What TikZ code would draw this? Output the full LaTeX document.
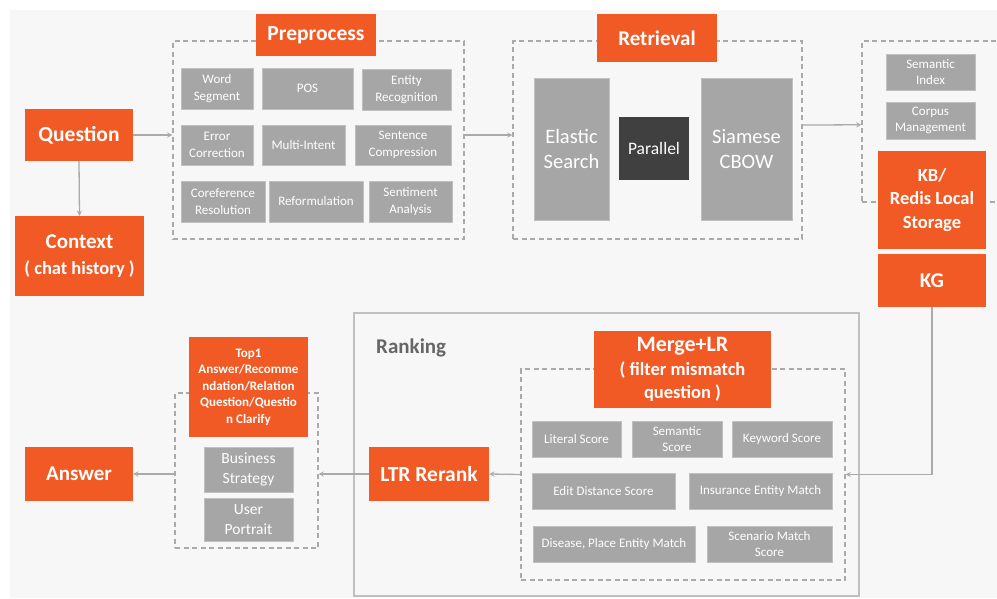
\documentclass[tikz,border=0pt]{standalone}
\usepackage{fontspec}
\setmainfont{Carlito}
\usepackage{tikz}
\usetikzlibrary{arrows,shapes,calc,positioning}
\definecolor{naranja}{RGB}{241,90,36}
\definecolor{grisCaja}{RGB}{166,166,166}
\definecolor{grisBorde}{RGB}{192,192,192}
\definecolor{grisOscuro}{RGB}{64,64,64}
\definecolor{grisLinea}{RGB}{170,170,170}
\definecolor{grisTexto}{RGB}{102,102,102}
\definecolor{fondo}{RGB}{247,247,247}
\newcommand{\fsz}[2]{\fontsize{#1}{#2}\selectfont}
\tikzstyle{edge}  =[->, >=stealth, line width=1.3pt, draw=grisLinea]
\tikzstyle{obox}  =[rectangle, fill=naranja, text=white, align=center,
                    inner sep=0pt, font=\bfseries]
\tikzstyle{gbox}  =[rectangle, fill=grisCaja, draw=grisBorde, line width=0.8pt,
                    text=white, align=center, inner sep=0pt,
                    font=\fsz{13}{16.5}]
\tikzstyle{dbox}  =[rectangle, draw=grisLinea, line width=1.1pt,
                    dash pattern=on 5pt off 3.5pt, inner sep=0pt]

\begin{document}
\begin{tikzpicture}[x=1pt,y=-1pt]
    \useasboundingbox (0,0) rectangle (997,598);
    \fill[fondo] (10,10) rectangle (997,598);

    % question and context
    \node[obox, minimum width=108, minimum height=52, font=\bfseries\fsz{21.5}{24}]
        (question) at (79,135) {Question};
    \node[obox, minimum width=129, minimum height=80, font=\bfseries\fsz{21}{26}]
        (context) at (79.5,256) {Context\\{\fsz{18.5}{20}( chat history )}};

    % preprocess
    \node[dbox, minimum width=291, minimum height=198] (pre) at (318.5,140) {};
    \node[obox, minimum width=120, minimum height=42, font=\bfseries\fsz{21.5}{24}]
        (pretitle) at (316,35) {Preprocess};
    \node[gbox, minimum width=72, minimum height=41] (wseg)   at (217,88.5)   {Word\\Segment};
    \node[gbox, minimum width=91, minimum height=41] (pos)    at (307.5,88.5) {POS};
    \node[gbox, minimum width=89, minimum height=41] (ent)    at (406.5,89.5) {Entity\\Recognition};
    \node[gbox, minimum width=72, minimum height=40] (err)    at (217,145)    {Error\\Correction};
    \node[gbox, minimum width=83, minimum height=40] (multi)  at (303.5,145)  {Multi-Intent};
    \node[gbox, minimum width=96, minimum height=40] (comp)   at (403,145)    {Sentence\\Compression};
    \node[gbox, minimum width=84, minimum height=41] (coref)  at (223,201.5)  {Coreference\\Resolution};
    \node[gbox, minimum width=94, minimum height=41] (reform) at (316,201.5)  {Reformulation};
    \node[gbox, minimum width=83, minimum height=41] (senti)  at (410.5,201.5){Sentiment\\Analysis};

    % retrieval
    \node[dbox, minimum width=289, minimum height=198] (ret) at (657.5,140) {};
    \node[obox, minimum width=120, minimum height=48, font=\bfseries\fsz{21}{24}]
        (rettitle) at (657,38) {Retrieval};
    \node[gbox, minimum width=75, minimum height=142, font=\fsz{20.5}{25}]
        (elastic) at (571.5,149) {Elastic\\Search};
    \node[gbox, fill=grisOscuro, draw=none, minimum width=70, minimum height=63,
        font=\fsz{17.5}{20}] (parallel) at (654,148.5) {Parallel};
    \node[gbox, minimum width=91, minimum height=142, font=\fsz{20.5}{25}]
        (siamese) at (746.5,149) {Siamese\\CBOW};

    % storage
    \node[dbox, minimum width=148, minimum height=161] (store) at (936,121.5) {};
    \node[gbox, minimum width=89, minimum height=36] (semidx) at (930.5,72)    {Semantic\\Index};
    \node[gbox, minimum width=89, minimum height=37] (corpus) at (930.5,120.5) {Corpus\\Management};
    \node[obox, minimum width=108, minimum height=98, font=\bfseries\fsz{18.5}{23.5}]
        (kb) at (932,200) {KB/\\Redis Local\\Storage};
    \node[obox, minimum width=108, minimum height=53, font=\bfseries\fsz{21}{24}]
        (kg) at (932,280.5) {KG};

    % ranking
    \node[rectangle, draw=grisBorde, line width=1.2pt, minimum width=505,
        minimum height=283] (rank) at (606.5,454.5) {};
    \node[anchor=west, inner sep=0pt, text=grisTexto, font=\bfseries\fsz{21}{24}]
        (ranklabel) at (376,348) {Ranking};
    \node[dbox, minimum width=324, minimum height=211] (rin) at (683,474.5) {};
    \node[obox, minimum width=177, minimum height=77, font=\bfseries\fsz{18.5}{23.5}]
        (merge) at (682.5,369.5) {{\fsz{22}{23.5}Merge+LR}\\( filter mismatch\\question )};
    \node[gbox, minimum width=89,  minimum height=36] (literal) at (576.5,439) {Literal Score};
    \node[gbox, minimum width=90,  minimum height=36] (semsc)   at (677,439)   {Semantic\\Score};
    \node[gbox, minimum width=100, minimum height=36] (keyw)    at (782,439)   {Keyword Score};
    \node[gbox, minimum width=143, minimum height=36] (edit)    at (603.5,491) {Edit Distance Score};
    \node[gbox, minimum width=143, minimum height=36] (insur)   at (760.5,491) {Insurance Entity Match};
    \node[gbox, minimum width=162, minimum height=36] (disease) at (614,544)   {Disease, Place Entity Match};
    \node[gbox, minimum width=125, minimum height=36] (scen)    at (769.5,544) {Scenario Match\\Score};

    \node[obox, minimum width=120, minimum height=54, font=\bfseries\fsz{21.5}{24}]
        (ltr) at (429,474) {LTR Rerank};

    % final answer
    \node[dbox, minimum width=143, minimum height=155] (fin) at (246.5,470.5) {};
    \node[obox, minimum width=119, minimum height=100, font=\bfseries\fsz{13}{16.5}]
        (top1) at (248.5,387) {Top1\\Answer/Recomme\\ndation/Relation\\Question/Questio\\n Clarify};
    \node[gbox, minimum width=89, minimum height=45, font=\fsz{15.5}{20.5}]
        (busi) at (248.5,469.5) {Business\\Strategy};
    \node[gbox, minimum width=89, minimum height=43, font=\fsz{15.5}{20.5}]
        (user) at (248.5,519.5) {User\\Portrait};
    \node[obox, minimum width=108, minimum height=54, font=\bfseries\fsz{21}{24}]
        (answer) at (79,474) {Answer};

    % connectors
    \draw[edge] (question.south) -- (context.north);
    \draw[edge] (question.east) -- (question.east -| pre.west);
    \draw[edge] (question.east -| pre.east) -- (question.east -| ret.west);
    \draw[edge] ($(ret.north east)!0.425!(ret.south east)$)
        -- ($(store.north west)!0.52!(store.south west)$);
    \draw[edge] (kg.south) |- (rin.east);
    \draw[edge] (rin.west) -- (ltr.east);
    \draw[edge] (ltr.west) -- (ltr.west -| fin.east);
    \draw[edge] (fin.west |- answer.east) -- (answer.east);

\end{tikzpicture}
\end{document}
